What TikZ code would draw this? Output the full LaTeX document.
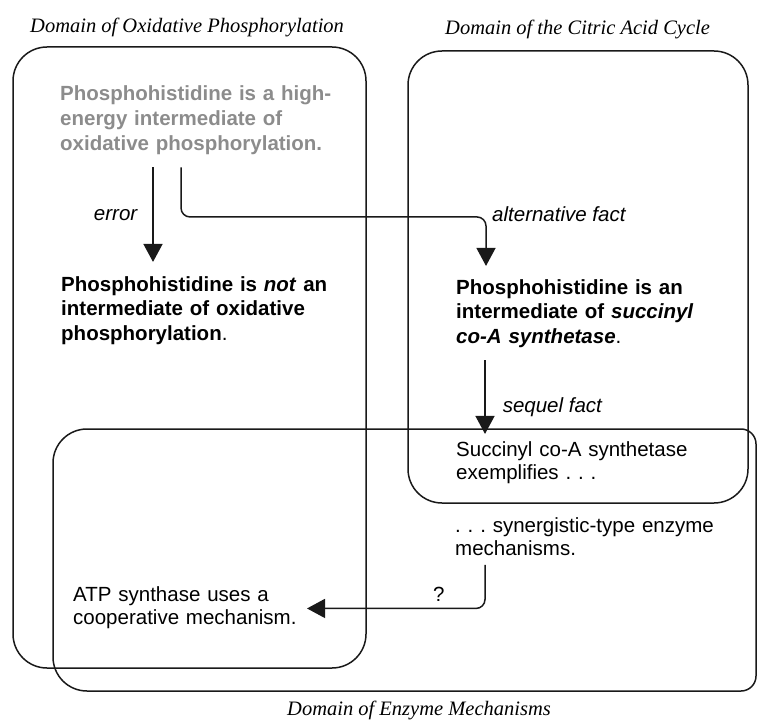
\documentclass[tikz,border=0pt]{standalone}
\usepackage{fontspec}
\setsansfont{Liberation Sans}
\newfontfamily\domfont{Liberation Serif}
\usepackage{tikz}
\usetikzlibrary{positioning,arrows.meta}
\definecolor{faded}{gray}{0.55}
\definecolor{ink}{gray}{0.1}
\frenchspacing
\tikzset{>={Triangle[length=18pt,width=19pt]}}
\tikzset{
  domainbox/.style={draw=ink, line width=1.5pt},
  dtitle/.style={inner sep=0pt, anchor=base west,
    font=\domfont\itshape\fontsize{20.5}{24}\selectfont},
  claim/.style={inner sep=0pt, anchor=base west, align=left, text width=290pt,
    font=\sffamily\fontsize{20.5}{24.5}\selectfont},
  plainclaim/.style={claim, font=\sffamily\fontsize{20.5}{23.5}\selectfont},
  link/.style={draw=ink, line width=1.5pt, ->, rounded corners=9pt},
  linklabel/.style={inner sep=0pt, font=\sffamily\itshape\fontsize{20.5}{24}\selectfont},
}

\begin{document}
\begin{tikzpicture}[x=1pt, y=-1pt]
  \useasboundingbox (0,0) rectangle (757,727);

  % START: Domains ---------------------------------
  \draw[domainbox, rounded corners=34pt] (13,47) rectangle (366,668);
  \draw[domainbox, rounded corners=34pt] (408,51) rectangle (748,503);
  \draw[domainbox] (400,429) [rounded corners=15pt] -- (756,429) -- (756,691)
        -- (400,691) [rounded corners=34pt] -- (53,691) -- (53,429) -- cycle;
  \node[dtitle] (t_oxphos) at (30,33) {Domain of Oxidative Phosphorylation};
  \node[dtitle] (t_citric) at (445,35) {Domain of the Citric Acid Cycle};
  \node[dtitle] (t_enzyme) at (287,715) {Domain of Enzyme Mechanisms};
  % END: Domains -----------------------------------

  % START: Claims ----------------------------------
  % Oxidative phosphorylation
  \node[claim, text=faded, font=\sffamily\bfseries\fontsize{20.5}{25}\selectfont]
        (highenergy) at (60,101)
        {Phosphohistidine is a high-\\energy intermediate of\\oxidative phosphorylation.};
  \node[claim] (notint) at (61,291)
        {\bfseries Phosphohistidine is \textit{not} an\\intermediate of oxidative\\phosphorylation\mdseries.};
  % Citric acid cycle
  \node[claim] (succint) at (456,294)
        {\bfseries Phosphohistidine is an\\intermediate of \textit{succinyl}\\\textit{co-A synthetase}\mdseries.};
  \node[plainclaim] (exempl) at (456,456) {Succinyl co-A synthetase\\exemplifies . . .};
  % Enzyme mechanisms
  \node[plainclaim] (synerg) at (455,532) {. . . synergistic-type enzyme\\mechanisms.};
  \node[plainclaim] (atp) at (73,601) {ATP synthase uses a\\cooperative mechanism.};
  % END: Claims ------------------------------------

  % START: Links -----------------------------------
  \coordinate (err_a) at ([xshift=93pt, yshift=-12pt]highenergy.south west);
  \draw[link] (err_a) -- ([yshift=14pt]err_a |- notint.north)
        node[midway, left=15pt, linklabel] (l_error) {error};

  \coordinate (alt_a) at ([xshift=121pt, yshift=-12pt]highenergy.south west);
  \coordinate (alt_c) at ([xshift=30pt, yshift=62pt]succint.north west);
  \draw[link] (alt_a) |- (alt_c) -- ([xshift=30pt, yshift=13pt]succint.north west);
  \node[linklabel, anchor=west] (l_alt) at ([xshift=6pt, yshift=2.4pt]alt_c) {alternative fact};

  \draw[link] ([xshift=29pt, yshift=-13pt]succint.south west)
        -- ([xshift=29pt, yshift=7pt]exempl.north west)
        node[pos=0.64, right=17pt, linklabel] (l_sequel) {sequel fact};

  \draw[link] ([xshift=30pt, yshift=-9pt]synerg.south west)
        |- ([xshift=234pt, yshift=-1pt]atp.west)
        node[pos=0.63, above=6pt, linklabel, font=\sffamily\upshape\fontsize{20.5}{24}\selectfont] (l_query) {?};
  % END: Links -------------------------------------
\end{tikzpicture}
\end{document}
